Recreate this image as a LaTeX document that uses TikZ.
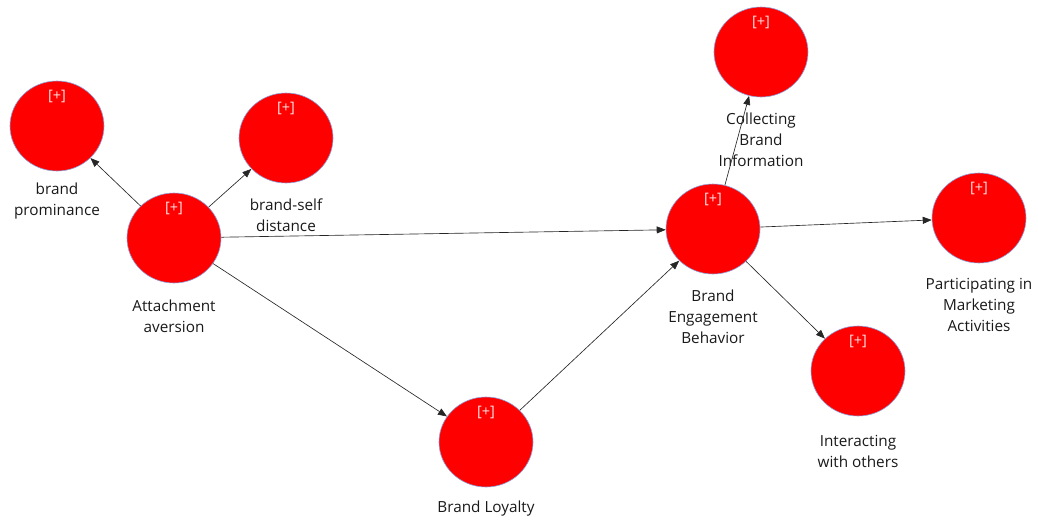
\documentclass[tikz,border=0pt]{standalone}
\usepackage{fontspec}
\setmainfont{Open Sans}
\usetikzlibrary{shapes.geometric,arrows.meta}
\definecolor{lvred}{RGB}{255,0,0}
\definecolor{lvedge}{RGB}{140,160,220}
\definecolor{plustext}{RGB}{255,225,225}
\tikzset{
  latent/.style={ellipse, fill=lvred, draw=lvedge, line width=0.6pt,
    minimum width=94pt, minimum height=90pt, inner sep=0pt},
  plus/.style={text=plustext, font=\fontsize{14.5}{14.5}\selectfont, inner sep=0pt},
  caption/.style={align=center, font=\fontsize{15.3}{21}\selectfont, inner sep=0pt, text=black!90},
  path/.style={draw=black!85, line width=0.65pt, -{Triangle[length=9pt,width=7pt]}}
}
\begin{document}
\begin{tikzpicture}[x=1pt,y=-1pt]
\useasboundingbox (0,0) rectangle (1038,520);
% latent variables
\node[latent] (bp)  at (57,126)  {};
\node[latent] (bsd) at (286,138) {};
\node[latent] (aa)  at (174,238) {};
\node[latent] (cbi) at (761,52)  {};
\node[latent] (beb) at (713,229) {};
\node[latent] (pma) at (979,218) {};
\node[latent] (iwo) at (858,371) {};
\node[latent] (bl)  at (486,442) {};
% expand markers
\foreach \n in {bp,bsd,aa,cbi,beb,pma,iwo,bl}
  \node[plus] at ([yshift=30pt]\n.center) {[+]};
% captions
\node[caption] (lbp)  at (57,201)  {brand\\prominance};
\node[caption] (lbsd) at (286,215) {brand-self\\distance};
\node[caption] (laa)  at (174,316) {Attachment\\aversion};
\node[caption] (lcbi) at (761,140) {Collecting\\Brand\\Information};
\node[caption] (lbeb) at (713,317) {Brand\\Engagement\\Behavior};
\node[caption] (lpma) at (979,305) {Participating in\\Marketing\\Activities};
\node[caption] (liwo) at (858,451) {Interacting\\with others};
\node[caption] (lbl)  at (486,509) {Brand Loyalty};
% structural paths
\draw[path] (aa) -- (bp);
\draw[path] (aa) -- (bsd);
\draw[path] (aa) -- (beb);
\draw[path] (aa) -- (bl);
\draw[path] (bl) -- (beb);
\draw[path] (beb) -- (cbi);
\draw[path] (beb) -- (pma);
\draw[path] (beb) -- (iwo);
\end{tikzpicture}
\end{document}
